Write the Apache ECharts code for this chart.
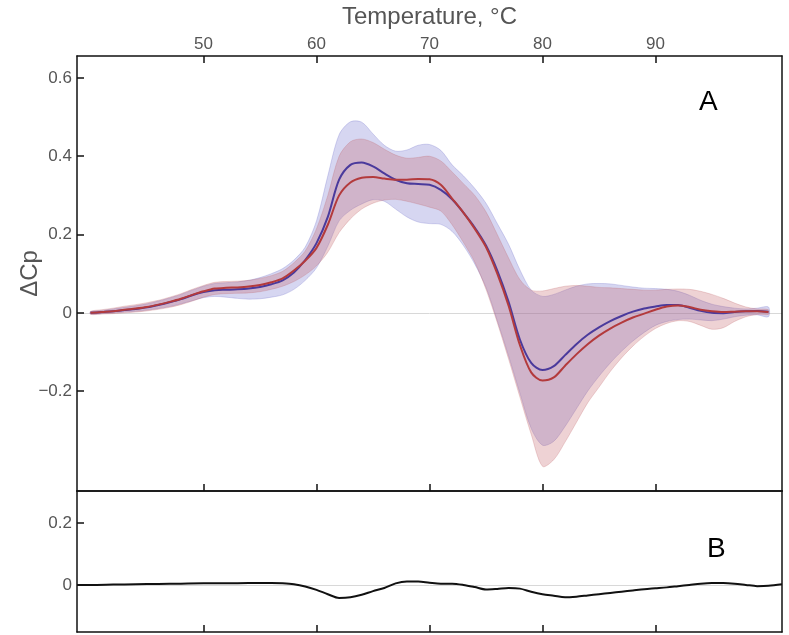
<!DOCTYPE html>
<html>
<head>
<meta charset="utf-8">
<script src="https://cdn.jsdelivr.net/npm/echarts@6/dist/echarts.min.js"></script>
<style>html,body{margin:0;padding:0;background:#fff}#c{width:789px;height:635px}</style>
</head>
<body>
<div id="c"></div>
<script>
const temps = [40,41,42,43,44,45,46,47,48,49,50,51,52,53,54,55,56,57,58,59,60,61,62,63,64,65,66,67,68,69,70,71,72,73,74,75,76,77,78,79,80,81,82,83,84,85,86,87,88,89,90,91,92,93,94,95,96,97,98,99,100];
const blueMean = [0.000,0.002,0.004,0.007,0.010,0.014,0.020,0.027,0.035,0.045,0.053,0.058,0.059,0.060,0.062,0.066,0.073,0.083,0.103,0.135,0.178,0.245,0.340,0.378,0.384,0.374,0.356,0.340,0.331,0.329,0.327,0.314,0.290,0.256,0.218,0.172,0.108,0.028,-0.068,-0.128,-0.146,-0.136,-0.108,-0.080,-0.056,-0.037,-0.021,-0.008,0.003,0.011,0.016,0.020,0.020,0.013,0.005,0.000,-0.001,0.002,0.004,0.005,0.003];
const redMean = [0.000,0.002,0.004,0.008,0.011,0.015,0.021,0.028,0.036,0.046,0.055,0.062,0.064,0.065,0.067,0.071,0.078,0.088,0.108,0.133,0.166,0.225,0.300,0.333,0.345,0.347,0.343,0.340,0.340,0.342,0.341,0.327,0.292,0.256,0.215,0.168,0.100,0.018,-0.082,-0.152,-0.173,-0.165,-0.135,-0.106,-0.080,-0.058,-0.040,-0.025,-0.012,-0.002,0.008,0.016,0.019,0.015,0.008,0.004,0.002,0.003,0.004,0.004,0.002];
const blueHigh = [0.003,0.006,0.010,0.014,0.018,0.023,0.030,0.038,0.047,0.058,0.068,0.075,0.077,0.079,0.083,0.090,0.100,0.113,0.135,0.168,0.235,0.350,0.455,0.488,0.487,0.457,0.428,0.413,0.416,0.428,0.430,0.415,0.378,0.350,0.318,0.280,0.228,0.175,0.110,0.058,0.042,0.047,0.058,0.068,0.074,0.075,0.074,0.070,0.066,0.063,0.062,0.060,0.055,0.045,0.032,0.022,0.016,0.012,0.010,0.012,0.015];
const blueLow = [-0.003,-0.002,0.000,0.002,0.004,0.007,0.011,0.016,0.023,0.031,0.039,0.042,0.040,0.037,0.035,0.036,0.040,0.046,0.060,0.083,0.115,0.170,0.235,0.262,0.278,0.289,0.285,0.265,0.245,0.232,0.228,0.226,0.208,0.172,0.125,0.065,-0.020,-0.110,-0.205,-0.295,-0.338,-0.328,-0.290,-0.245,-0.200,-0.162,-0.128,-0.098,-0.072,-0.050,-0.032,-0.022,-0.017,-0.016,-0.018,-0.020,-0.016,-0.010,-0.006,-0.005,-0.010];
const redHigh = [0.004,0.008,0.012,0.017,0.021,0.026,0.032,0.040,0.049,0.060,0.070,0.078,0.080,0.081,0.083,0.088,0.095,0.106,0.128,0.158,0.215,0.300,0.400,0.437,0.444,0.435,0.418,0.403,0.395,0.397,0.400,0.388,0.360,0.330,0.300,0.258,0.200,0.140,0.085,0.058,0.056,0.062,0.068,0.070,0.068,0.065,0.064,0.062,0.060,0.058,0.058,0.060,0.061,0.060,0.055,0.047,0.037,0.025,0.015,0.010,0.008];
const redLow = [-0.004,-0.003,-0.002,0.000,0.002,0.005,0.009,0.014,0.021,0.030,0.040,0.047,0.049,0.050,0.051,0.054,0.060,0.068,0.080,0.097,0.120,0.155,0.205,0.240,0.265,0.280,0.288,0.290,0.285,0.278,0.270,0.260,0.225,0.180,0.130,0.060,-0.025,-0.118,-0.215,-0.310,-0.392,-0.375,-0.330,-0.280,-0.230,-0.190,-0.150,-0.115,-0.085,-0.060,-0.040,-0.027,-0.020,-0.022,-0.032,-0.042,-0.038,-0.022,-0.010,-0.004,-0.004];
const diffTemps = [38.8,40,42,44,46,48,50,52,54,56,57,58,59,60,61,62,63,64,65,66,67,68,69,70,71,72,73,74,75,76,77,78,79,80,81,82,83,84,85,86,87,88,89,90,91,92,93,94,95,96,97,98,99,100,101.2];
const diffValues = [0,0,0.001,0.002,0.003,0.004,0.005,0.005,0.006,0.006,0.005,0.002,-0.005,-0.016,-0.030,-0.042,-0.040,-0.032,-0.020,-0.010,0.005,0.011,0.011,0.007,0.004,0.004,0.000,-0.007,-0.015,-0.013,-0.010,-0.012,-0.022,-0.030,-0.035,-0.040,-0.038,-0.034,-0.030,-0.026,-0.022,-0.018,-0.014,-0.011,-0.008,-0.004,0.000,0.004,0.006,0.006,0.004,0.000,-0.004,-0.003,0.002];
const xTicks = [50,60,70,80,90];
const yTicksA = [-0.2,0,0.2,0.4,0.6];
const yTicksB = [0,0.2];

const FONT = '"Liberation Sans", Arial, sans-serif';
const GRAY = '#555';
const fmtY = v => v === 0 ? '0' : (v < 0 ? '\u2212' + (-v).toFixed(1) : v.toFixed(1));

function bandData(lo, hi){ return temps.map((t,i)=>[t, lo[i], hi[i]]); }
function bandSeries(lo, hi, color, edge){
  return {
    type:'custom', xAxisIndex:0, yAxisIndex:0, silent:true, z:1,
    data: bandData(lo, hi),
    encode:{x:0, y:[1,2]},
    renderItem:function(params, api){
      if (params.dataIndex !== 0) return null;
      const pts = [];
      for (let i=0;i<temps.length;i++) pts.push(api.coord([temps[i], hi[i]]));
      for (let i=temps.length-1;i>=0;i--) pts.push(api.coord([temps[i], lo[i]]));
      return {type:'polygon', shape:{points:pts, smooth:0.3}, style:{fill:color, stroke:edge, lineWidth:0.8}};
    }
  };
}
function axisCommon(){
  return {
    axisLine:{show:true, onZero:false, lineStyle:{color:'#111', width:1.5}},
    splitLine:{show:false}
  };
}

const chart = echarts.init(document.getElementById('c'), null, {renderer:'canvas'});
chart.setOption({
  animation:false,
  backgroundColor:'#fff',
  textStyle:{fontFamily:FONT},
  grid:[
    {left:77, top:56, width:705, height:435, outerBoundsMode:'none', containLabel:false},
    {left:77, top:491, width:705, height:141, outerBoundsMode:'none', containLabel:false}
  ],
  xAxis:[
    Object.assign(axisCommon(), {type:'value', gridIndex:0, position:'top', min:38.8, max:101.2,
      name:'Temperature, \u00B0C', nameLocation:'middle', nameGap:27, nameMoveOverlap:false,
      nameTextStyle:{color:GRAY, fontSize:24, fontFamily:FONT},
      axisTick:{show:true, inside:true, length:7, customValues:xTicks, lineStyle:{color:'#111', width:1.5}},
      axisLabel:{show:true, customValues:xTicks, color:GRAY, fontSize:17, margin:3, fontFamily:FONT}}),
    Object.assign(axisCommon(), {type:'value', gridIndex:0, position:'bottom', min:38.8, max:101.2,
      axisTick:{show:true, inside:true, length:7, customValues:xTicks, lineStyle:{color:'#111', width:1.5}},
      axisLabel:{show:false}}),
    Object.assign(axisCommon(), {type:'value', gridIndex:1, position:'bottom', min:38.8, max:101.2,
      axisTick:{show:true, inside:true, length:7, customValues:xTicks, lineStyle:{color:'#111', width:1.5}},
      axisLabel:{show:false}}),
    Object.assign(axisCommon(), {type:'value', gridIndex:1, position:'top', min:38.8, max:101.2,
      axisTick:{show:false}, axisLabel:{show:false}})
  ],
  yAxis:[
    Object.assign(axisCommon(), {type:'value', gridIndex:0, position:'left', min:-0.455, max:0.656,
      name:'\u0394Cp', nameLocation:'middle', nameGap:35, nameMoveOverlap:false,
      nameTextStyle:{color:GRAY, fontSize:24, fontFamily:FONT},
      axisTick:{show:true, inside:true, length:7, customValues:yTicksA, lineStyle:{color:'#111', width:1.5}},
      axisLabel:{show:true, customValues:yTicksA, color:GRAY, fontSize:17, margin:5, formatter:fmtY, fontFamily:FONT}}),
    Object.assign(axisCommon(), {type:'value', gridIndex:0, position:'right', min:-0.455, max:0.656,
      axisTick:{show:false}, axisLabel:{show:false}}),
    Object.assign(axisCommon(), {type:'value', gridIndex:1, position:'left', min:-0.152, max:0.303,
      axisTick:{show:true, inside:true, length:7, customValues:yTicksB, lineStyle:{color:'#111', width:1.5}},
      axisLabel:{show:true, customValues:yTicksB, color:GRAY, fontSize:17, margin:5, formatter:fmtY, fontFamily:FONT}}),
    Object.assign(axisCommon(), {type:'value', gridIndex:1, position:'right', min:-0.152, max:0.303,
      axisTick:{show:false}, axisLabel:{show:false}})
  ],
  graphic:[
    {type:'text', left:699, top:88, style:{text:'A', fontSize:28, fill:'#000', font:'28px ' + FONT}},
    {type:'text', left:707, top:535, style:{text:'B', fontSize:28, fill:'#000', font:'28px ' + FONT}}
  ],
  series:[
    bandSeries(blueLow, blueHigh, 'rgba(120,120,210,0.30)', 'rgba(110,110,200,0.35)'),
    bandSeries(redLow, redHigh, 'rgba(195,95,100,0.28)', 'rgba(190,90,95,0.3)'),
    {type:'line', xAxisIndex:0, yAxisIndex:0, data:temps.map((t,i)=>[t, blueMean[i]]), showSymbol:false, smooth:0.3,
      lineStyle:{color:'#4a3a9c', width:2}, z:3, silent:true,
      markLine:{silent:true, symbol:'none', label:{show:false}, lineStyle:{color:'#d8d8d8', width:1, type:'solid'}, data:[{yAxis:0}], z:0}},
    {type:'line', xAxisIndex:0, yAxisIndex:0, data:temps.map((t,i)=>[t, redMean[i]]), showSymbol:false, smooth:0.3,
      lineStyle:{color:'#b33a3c', width:2}, z:3, silent:true},
    {type:'line', xAxisIndex:2, yAxisIndex:2, data:diffTemps.map((t,i)=>[t, diffValues[i]]), showSymbol:false, smooth:0.3,
      lineStyle:{color:'#111', width:2}, z:3, silent:true,
      markLine:{silent:true, symbol:'none', label:{show:false}, lineStyle:{color:'#d8d8d8', width:1, type:'solid'}, data:[{yAxis:0}], z:0}}
  ]
});
</script>
</body>
</html>
